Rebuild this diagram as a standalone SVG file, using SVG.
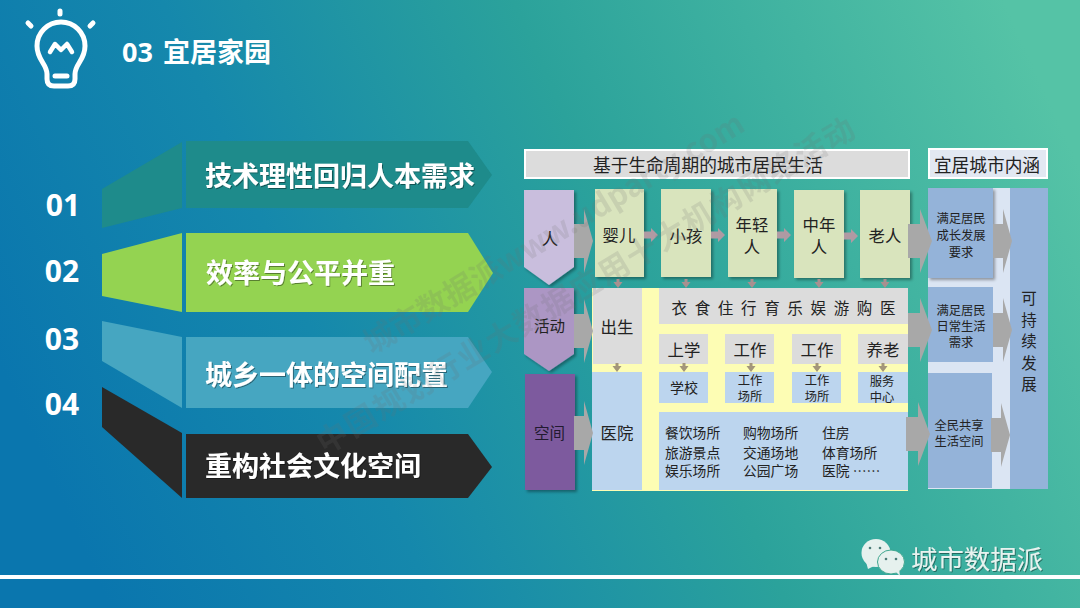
<svg xmlns="http://www.w3.org/2000/svg" width="1080" height="608" viewBox="0 0 1080 608">
<defs>
<linearGradient id="bg" gradientUnits="userSpaceOnUse" x1="70" y1="520" x2="1040" y2="80">
<stop offset="0" stop-color="#0a76ae"/><stop offset="0.28" stop-color="#1588ac"/><stop offset="0.58" stop-color="#2ba29b"/><stop offset="1" stop-color="#55c3a6"/>
</linearGradient>
<filter id="sh" x="-20%" y="-20%" width="140%" height="140%"><feDropShadow dx="2" dy="2" stdDeviation="1.5" flood-color="#000" flood-opacity=".35"/></filter>
<filter id="ts" x="-10%" y="-20%" width="120%" height="140%"><feDropShadow dx="1" dy="1" stdDeviation=".6" flood-color="#000" flood-opacity=".4"/></filter>
<path id="big" d="M0 -17H10V-32L19 0L10 32V17H0Z" fill="#a8a8a8"/>
<path id="big2" d="M0 -17H12V-32L24 0L12 32V17H0Z" fill="#a8a8a8"/>
<path id="sm" d="M0 -3.5H7V-7L14 0L7 7V3.5H0Z" fill="#b09aa3"/>
<path id="dn" d="M-1.5 0H1.5V3H4.5L0 9L-4.5 3H-1.5Z"/>
</defs>
<style>
text{font-family:"Noto Sans CJK SC","Liberation Sans",sans-serif;text-anchor:middle}
.num{font-family:"Open Sans","Noto Sans",sans-serif;font-weight:700;font-size:30px;fill:#fff}
.h{font-weight:700;font-size:27px;fill:#fff;text-anchor:start;filter:url(#ts)}
.d{font-size:16.4px;fill:#222}
.s{font-size:12.3px;fill:#222}
.l{font-size:13.8px;fill:#222;text-anchor:start}
.wm{font-weight:700;fill:#6f6f6f;opacity:.16;text-anchor:start}
.a1{fill:#a89090}.a2{fill:#a3967a}
</style>
<rect width="1080" height="608" fill="url(#bg)"/>

<g id="icon" fill="none" stroke="#fff" stroke-width="5" stroke-linecap="round" stroke-linejoin="round">
<path d="M47 74C47 64 37 60 37 46A24 24 0 0 1 85 46C85 60 75 64 75 74V79Q75 86 68 86H54Q47 86 47 79Z"/>
<path d="M50 52L55 44L61 50L67 44L72 52" stroke-width="4.5"/>
<path d="M55 76H67"/>
<path d="M60 11V14M28 23L31 26M93 23L90 26"/>
</g>
<g id="title"><text x="122" y="62" style="text-anchor:start;font-size:27px;font-weight:700;fill:#fff;word-spacing:3px;font-family:'Open Sans','Noto Sans CJK SC',sans-serif">03 宜居家园</text></g>

<g id="item1"><path d="M102 228V189L182 142V208Z" fill="#1e8b8b"/><path d="M186 141H468L492 175L468 208H186Z" fill="#1e8b8b"/><text class="h" x="205" y="186">技术理性回归人本需求</text><text class="num" x="63" y="216">01</text></g>
<g id="item2"><path d="M102 296V254L182 233V312Z" fill="#94d351"/><path d="M186 233H468L493 273L468 312H186Z" fill="#94d351"/><text class="h" x="206" y="283">效率与公平并重</text><text class="num" x="62" y="282">02</text></g>
<g id="item3"><path d="M102 321L182 337V408L102 361Z" fill="#46a6c1"/><path d="M186 337H468L492 372L468 408H186Z" fill="#46a6c1"/><text class="h" x="205" y="385">城乡一体的空间配置</text><text class="num" x="62" y="350">03</text></g>
<g id="item4"><path d="M102 387L182 433V498L102 427Z" fill="#292929"/><path d="M186 434H468L492 467L468 498H186Z" fill="#292929"/><text class="h" x="205" y="476">重构社会文化空间</text><text class="num" x="62" y="415">04</text></g>

<g id="header1"><rect x="525" y="150" width="384" height="28" fill="#dcdcdc" stroke="#fff" stroke-width="2"/><text x="708" y="172" style="font-size:17.7px;fill:#222">基于生命周期的城市居民生活</text></g>
<g id="header2"><rect x="929" y="149" width="118" height="29" fill="#e2e8f2" stroke="#fff" stroke-width="2"/><text x="987" y="172" style="font-size:17.7px;fill:#222">宜居城市内涵</text></g>

<g id="yellow-panel"><rect x="592" y="288" width="316" height="203" fill="#fdfdb4"/></g>

<g id="row-person"><path d="M524 190H574V267L549 285L524 267Z" fill="#c9bedd" filter="url(#sh)"/><text class="d" x="550" y="245">人</text></g>
<g id="row-activity"><path d="M524 288H574V354L549 371L524 354Z" fill="#ac96c4" filter="url(#sh)"/><text x="549.5" y="332" style="font-size:15.5px;fill:#222">活动</text></g>
<g id="row-space"><rect x="525" y="374" width="50" height="116" fill="#7d5a9e" filter="url(#sh)"/><text x="549.5" y="439" style="font-size:15.5px;fill:#221a30">空间</text></g>

<g id="baby"><rect x="595" y="189" width="49" height="88" fill="#d9e4bd" filter="url(#sh)"/><text class="d" x="619" y="241">婴儿</text></g>
<g id="child"><rect x="661" y="189" width="50" height="88" fill="#d9e4bd" filter="url(#sh)"/><text class="d" x="686" y="242">小孩</text></g>
<g id="youth"><rect x="728" y="189" width="49" height="88" fill="#d9e4bd" filter="url(#sh)"/><text class="d" x="752" y="231">年轻<tspan x="752" dy="22">人</tspan></text></g>
<g id="middle"><rect x="794" y="190" width="50" height="88" fill="#d9e4bd" filter="url(#sh)"/><text class="d" x="819" y="231">中年<tspan x="819" dy="22">人</tspan></text></g>
<g id="elder"><rect x="860" y="190" width="50" height="88" fill="#d9e4bd" filter="url(#sh)"/><text class="d" x="885" y="242">老人</text></g>

<g id="birth"><rect x="593" y="288" width="49" height="76" fill="#dcdcdc"/><text class="d" x="617" y="333">出生</text></g>
<g id="needs"><rect x="659" y="288" width="249" height="36" fill="#dcdcdc"/><text x="783.5" y="314" style="font-size:15.5px;fill:#222;word-spacing:4.2px">衣 食 住 行 育 乐 娱 游 购 医</text></g>
<g id="study"><rect x="659" y="334" width="49" height="30" fill="#dcdcdc"/><text class="d" x="684" y="356">上学</text></g>
<g id="work1"><rect x="725" y="334" width="49" height="30" fill="#dcdcdc"/><text class="d" x="750" y="356">工作</text></g>
<g id="work2"><rect x="792" y="334" width="49" height="30" fill="#dcdcdc"/><text class="d" x="817" y="356">工作</text></g>
<g id="aged"><rect x="858" y="334" width="50" height="30" fill="#dcdcdc"/><text class="d" x="883" y="356">养老</text></g>

<g id="hospital"><rect x="592" y="372" width="50" height="118" fill="#bcd5ee"/><text class="d" x="617" y="439">医院</text></g>
<g id="school"><rect x="659" y="372" width="49" height="31" fill="#bcd5ee"/><text x="684" y="393" style="font-size:14px;fill:#222">学校</text></g>
<g id="workplace1"><rect x="725" y="372" width="49" height="31" fill="#bcd5ee"/><text class="s" x="750" y="385">工作<tspan x="750" dy="16">场所</tspan></text></g>
<g id="workplace2"><rect x="792" y="372" width="49" height="31" fill="#bcd5ee"/><text class="s" x="817" y="385">工作<tspan x="817" dy="16">场所</tspan></text></g>
<g id="service"><rect x="858" y="372" width="50" height="31" fill="#bcd5ee"/><text class="s" x="882" y="386">服务<tspan x="882" dy="16">中心</tspan></text></g>
<g id="places"><rect x="659" y="412" width="249" height="78" fill="#bcd5ee"/>
<text class="l" x="665" y="438">餐饮场所<tspan x="665" dy="20">旅游景点</tspan><tspan x="665" dy="18">娱乐场所</tspan></text>
<text class="l" x="743" y="438">购物场所<tspan x="743" dy="20">交通场地</tspan><tspan x="743" dy="18">公园广场</tspan></text>
<text class="l" x="822" y="438">住房<tspan x="822" dy="20">体育场所</tspan><tspan x="822" dy="18">医院 ……</tspan></text></g>

<g id="meaning-panel"><rect x="928" y="188" width="120" height="301" fill="#dbe5f3"/></g>
<g id="need1"><rect x="928" y="188" width="65" height="90" fill="#94b3d9" filter="url(#sh)"/><text class="s" x="961" y="223">满足居民<tspan x="961" dy="17">成长发展</tspan><tspan x="961" dy="17">要求</tspan></text></g>
<g id="need2"><rect x="928" y="287" width="65" height="75" fill="#94b3d9"/><text class="s" x="961" y="315">满足居民<tspan x="961" dy="16">日常生活</tspan><tspan x="961" dy="16">需求</tspan></text></g>
<g id="need3"><rect x="928" y="373" width="64" height="115" fill="#94b3d9"/><text class="s" x="959" y="430">全民共享<tspan x="959" dy="16">生活空间</tspan></text></g>
<g id="sustain"><rect x="1010" y="188" width="38" height="301" fill="#94b3d9"/>
<text x="1029" y="304" style="font-size:15.5px;fill:#222">可<tspan x="1029" dy="21.5">持</tspan><tspan x="1029" dy="21.5">续</tspan><tspan x="1029" dy="21.5">发</tspan><tspan x="1029" dy="21.5">展</tspan></text></g>

<g id="connectors">
<use href="#big" x="574" y="241"/><use href="#big" x="574" y="331"/><use href="#big" x="574" y="433"/>
<use href="#big2" x="908" y="241"/><use href="#big2" x="908" y="330"/><use href="#big2" x="906" y="434"/>
<use href="#big" x="993" y="241"/><use href="#big" x="993" y="330"/><use href="#big" x="991" y="435"/>
<use href="#sm" x="644" y="235"/><use href="#sm" x="711" y="235"/><use href="#sm" x="777" y="235"/><use href="#sm" x="844" y="236"/>
<use href="#dn" class="a1" x="618" y="279"/><use href="#dn" class="a1" x="686" y="279"/><use href="#dn" class="a1" x="752" y="279"/><use href="#dn" class="a1" x="819" y="279"/><use href="#dn" class="a1" x="885" y="279"/>
<use href="#dn" class="a2" x="617" y="363"/><use href="#dn" class="a2" x="684" y="363"/><use href="#dn" class="a2" x="751" y="363"/><use href="#dn" class="a2" x="817" y="363"/><use href="#dn" class="a2" x="883" y="363"/>
</g>

<g id="watermarks">
<text class="wm" style="font-size:31px" transform="translate(372 355) rotate(-31)">城市数据派www.udparty.com</text>
<text class="wm" style="font-size:31px;letter-spacing:1.8px" transform="translate(325 455) rotate(-31)">中国规划行业大数据应用十大机构网络活动</text>
</g>

<g id="footer">
<rect y="575" width="1080" height="4" fill="#fff"/>
<ellipse cx="876" cy="553" rx="14.5" ry="14" fill="#e6f1ee"/><path d="M866 562L868 569L876 565Z" fill="#e6f1ee"/>
<ellipse cx="891" cy="562" rx="13.5" ry="12" fill="#e6f1ee" stroke="#3fa78f" stroke-width="1"/><path d="M896 572L900 576L899 569Z" fill="#e6f1ee"/>
<g fill="#4d7c78"><circle cx="870" cy="548" r="1.3"/><circle cx="880" cy="548" r="1.3"/><circle cx="886" cy="559" r="1.3"/><circle cx="896" cy="559" r="1.3"/></g>
<text x="977" y="569" style="font-size:26.4px;fill:#e8f2ef;filter:url(#ts)">城市数据派</text>
</g>
</svg>
